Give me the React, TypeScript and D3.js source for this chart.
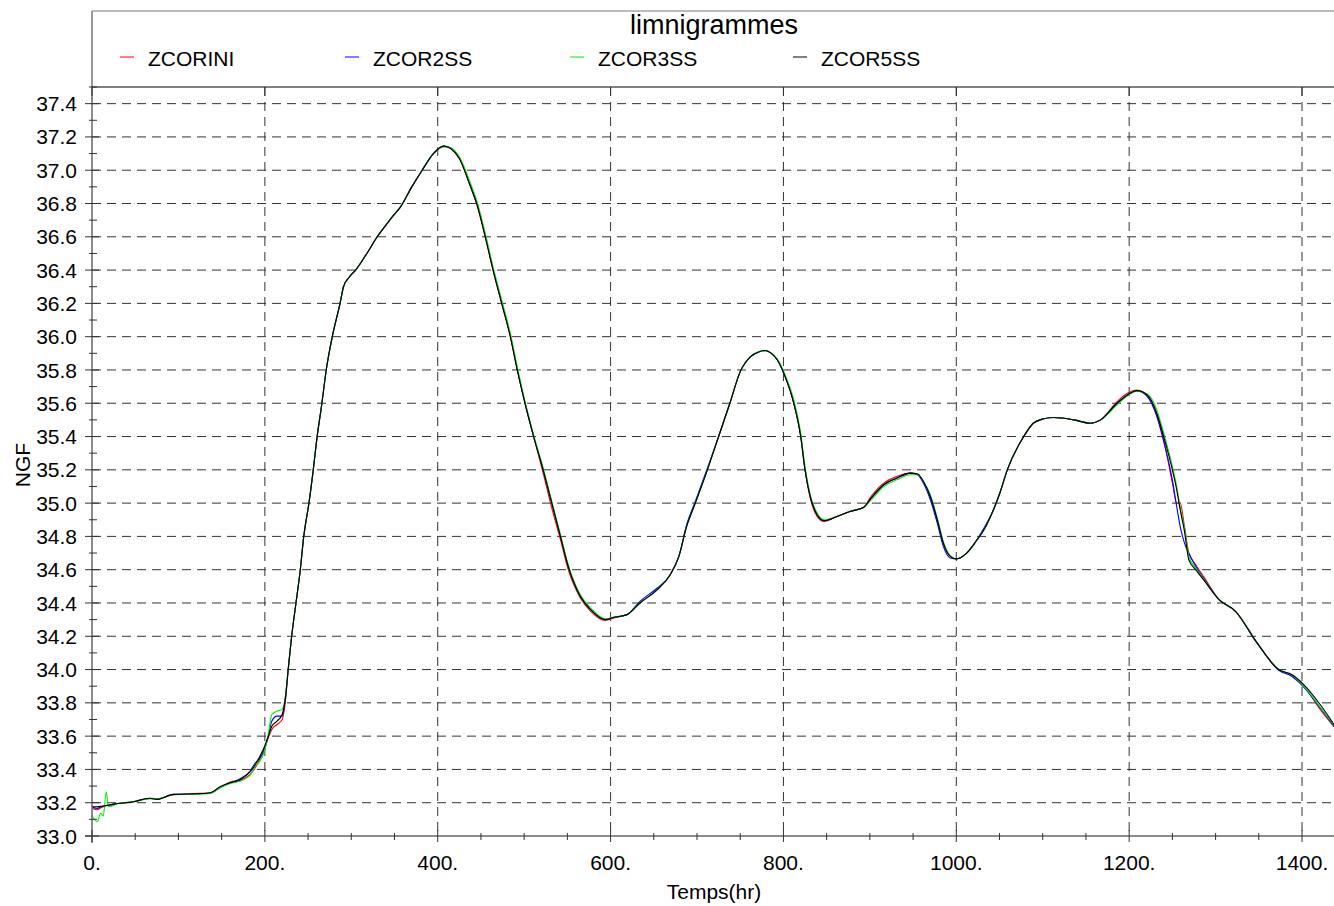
import React from "react";
import * as d3 from "d3";

const TITLE = "limnigrammes";
const X_LABEL = "Temps(hr)";
const Y_LABEL = "NGF";

const X_TICKS = [0, 200, 400, 600, 800, 1000, 1200, 1400];
const X_TICK_LABELS = ["0.", "200.", "400.", "600.", "800.", "1000.", "1200.", "1400."];
const Y_TICKS = [33.0, 33.2, 33.4, 33.6, 33.8, 34.0, 34.2, 34.4, 34.6, 34.8, 35.0, 35.2, 35.4, 35.6, 35.8, 36.0, 36.2, 36.4, 36.6, 36.8, 37.0, 37.2, 37.4];
const Y_TICK_LABELS = ["33.0", "33.2", "33.4", "33.6", "33.8", "34.0", "34.2", "34.4", "34.6", "34.8", "35.0", "35.2", "35.4", "35.6", "35.8", "36.0", "36.2", "36.4", "36.6", "36.8", "37.0", "37.2", "37.4"];

const SERIES_NAMES = ["ZCORINI", "ZCOR2SS", "ZCOR3SS", "ZCOR5SS"];
const SERIES_COLORS = ["#ff0000", "#0000ff", "#00ee00", "#000000"];

const TIME = [
  0, 2, 6, 10, 13, 16.5, 19, 24, 30, 48,
  67, 75, 94, 115, 137, 148, 160, 172, 183, 189,
  193, 199, 204, 208, 214, 220, 224, 227, 231, 236,
  241, 245, 251, 256, 260, 266, 271, 278, 287, 291,
  298, 305, 318, 330, 340, 349, 357, 370, 382, 395,
  407, 415, 425, 438, 445, 455, 464, 474, 484, 492,
  501, 511, 522, 532, 542, 551, 565, 577, 594, 604,
  619, 634, 654, 669, 679, 688, 698, 712, 725, 738,
  750, 762, 772, 779, 786, 793, 802, 812, 820, 825,
  831, 839, 847, 862, 877, 893, 900, 916, 931, 947,
  955, 962, 970, 978, 985, 993, 1000, 1012, 1024, 1032,
  1043, 1051, 1059, 1078, 1089, 1100, 1113, 1136, 1155, 1167,
  1186, 1198, 1209, 1221, 1232, 1240, 1250, 1255, 1259, 1264,
  1269, 1277, 1286, 1304, 1323, 1348, 1373, 1388, 1402, 1421,
  1437,
];

const ZCORINI = [
  33.172, 33.162, 33.158, 33.168, 33.176, 33.182, 33.185, 33.19, 33.195, 33.206,
  33.227, 33.222, 33.248, 33.255, 33.258, 33.29, 33.325, 33.335, 33.37, 33.41,
  33.45, 33.52, 33.59, 33.64, 33.67, 33.70, 33.82, 34.0, 34.2, 34.4,
  34.6, 34.8, 35.0, 35.2, 35.38, 35.6, 35.8, 36.0, 36.2, 36.3,
  36.36, 36.4, 36.5, 36.6, 36.67, 36.73, 36.78, 36.9, 37.0, 37.1,
  37.145, 37.13, 37.07, 36.9, 36.8, 36.6, 36.4, 36.2, 36.0, 35.8,
  35.6, 35.4, 35.18, 34.97, 34.78, 34.6, 34.43, 34.35, 34.295, 34.31,
  34.33, 34.4, 34.48, 34.57, 34.68, 34.86, 35.0, 35.2, 35.4, 35.6,
  35.79, 35.88, 35.91, 35.917, 35.9, 35.86, 35.76, 35.6, 35.4, 35.2,
  35.03, 34.92, 34.89, 34.92, 34.95, 34.975, 35.03, 35.12, 35.16, 35.18,
  35.175, 35.13, 35.04, 34.9, 34.76, 34.68, 34.665, 34.7, 34.78, 34.84,
  34.96, 35.07, 35.2, 35.4, 35.48, 35.505, 35.514, 35.5, 35.48, 35.5,
  35.61, 35.66, 35.68, 35.645, 35.53, 35.38, 35.12, 35.0, 35.0, 34.86,
  34.7, 34.63, 34.56, 34.42, 34.35, 34.16, 34.0, 33.965, 33.9, 33.76,
  33.655,
];

const ZCOR2SS = [
  33.18, 33.17, 33.166, 33.174, 33.18, 33.183, 33.185, 33.19, 33.195, 33.206,
  33.225, 33.222, 33.25, 33.252, 33.258, 33.292, 33.318, 33.345, 33.39, 33.44,
  33.46, 33.51, 33.6, 33.69, 33.72, 33.72, 33.84, 34.0, 34.2, 34.4,
  34.6, 34.8, 35.0, 35.2, 35.38, 35.6, 35.8, 36.0, 36.2, 36.3,
  36.36, 36.4, 36.5, 36.6, 36.67, 36.73, 36.78, 36.9, 37.0, 37.1,
  37.145, 37.135, 37.075, 36.91, 36.81, 36.61, 36.41, 36.21, 36.01, 35.81,
  35.6, 35.4, 35.2, 35.0, 34.8, 34.62, 34.44, 34.36, 34.3, 34.314,
  34.33, 34.41, 34.49, 34.57, 34.68, 34.87, 35.01, 35.21, 35.4, 35.6,
  35.79, 35.88, 35.91, 35.917, 35.9, 35.86, 35.76, 35.6, 35.4, 35.2,
  35.04, 34.93, 34.895, 34.92, 34.95, 34.975, 35.02, 35.11, 35.15, 35.18,
  35.17, 35.12, 35.02, 34.88, 34.74, 34.67, 34.665, 34.7, 34.78, 34.85,
  34.96, 35.07, 35.2, 35.4, 35.48, 35.505, 35.514, 35.5, 35.48, 35.5,
  35.6, 35.65, 35.674, 35.64, 35.52, 35.37, 35.14, 34.98, 34.86, 34.76,
  34.7, 34.62, 34.55, 34.42, 34.35, 34.16, 33.995, 33.96, 33.895, 33.77,
  33.66,
];

const ZCOR3SS = [
  33.125, 33.105, 33.086, 33.136, 33.12, 33.266, 33.176, 33.182, 33.195, 33.206,
  33.224, 33.222, 33.248, 33.25, 33.256, 33.288, 33.315, 33.33, 33.365, 33.42,
  33.44, 33.5, 33.61, 33.73, 33.75, 33.76, 33.85, 34.0, 34.2, 34.4,
  34.6, 34.8, 35.0, 35.2, 35.38, 35.6, 35.8, 36.0, 36.2, 36.3,
  36.36, 36.4, 36.5, 36.6, 36.67, 36.73, 36.78, 36.9, 37.0, 37.1,
  37.14, 37.135, 37.08, 36.92, 36.82, 36.62, 36.42, 36.22, 36.02, 35.82,
  35.61, 35.41, 35.21, 35.01, 34.81, 34.63, 34.45, 34.37, 34.305, 34.316,
  34.33, 34.4, 34.48, 34.57, 34.68, 34.86, 35.0, 35.2, 35.4, 35.6,
  35.79, 35.88, 35.91, 35.915, 35.9, 35.865, 35.77, 35.62, 35.42, 35.22,
  35.05, 34.94, 34.9, 34.92, 34.95, 34.975, 35.01, 35.1, 35.14, 35.17,
  35.17, 35.13, 35.05, 34.91, 34.77, 34.685, 34.665, 34.7, 34.78, 34.84,
  34.96, 35.07, 35.2, 35.4, 35.48, 35.505, 35.514, 35.5, 35.48, 35.5,
  35.59, 35.645, 35.672, 35.655, 35.56, 35.42, 35.22, 35.1, 34.98, 34.85,
  34.68, 34.61, 34.545, 34.42, 34.35, 34.16, 34.0, 33.968, 33.9, 33.775,
  33.665,
];

const ZCOR5SS = [
  33.175, 33.175, 33.176, 33.178, 33.18, 33.183, 33.185, 33.19, 33.195, 33.206,
  33.227, 33.22, 33.25, 33.252, 33.26, 33.296, 33.32, 33.34, 33.386, 33.43,
  33.467, 33.53, 33.6, 33.66, 33.69, 33.73, 33.84, 34.0, 34.2, 34.4,
  34.6, 34.8, 35.0, 35.2, 35.38, 35.6, 35.8, 36.0, 36.2, 36.3,
  36.36, 36.4, 36.5, 36.6, 36.67, 36.73, 36.78, 36.9, 37.0, 37.1,
  37.145, 37.13, 37.07, 36.9, 36.8, 36.6, 36.4, 36.2, 36.0, 35.8,
  35.6, 35.4, 35.2, 35.0, 34.8, 34.62, 34.44, 34.36, 34.3, 34.314,
  34.33, 34.4, 34.48, 34.57, 34.68, 34.86, 35.0, 35.2, 35.4, 35.6,
  35.79, 35.88, 35.91, 35.917, 35.9, 35.86, 35.76, 35.6, 35.4, 35.2,
  35.04, 34.93, 34.895, 34.92, 34.95, 34.975, 35.02, 35.11, 35.15, 35.18,
  35.175, 35.13, 35.04, 34.9, 34.76, 34.68, 34.665, 34.7, 34.78, 34.84,
  34.96, 35.07, 35.2, 35.4, 35.48, 35.505, 35.514, 35.5, 35.48, 35.5,
  35.6, 35.65, 35.676, 35.65, 35.54, 35.4, 35.2, 35.08, 34.96, 34.83,
  34.66, 34.6, 34.54, 34.42, 34.35, 34.16, 34.0, 33.97, 33.91, 33.79,
  33.67,
];

const SERIES_VALUES = [ZCORINI, ZCOR2SS, ZCOR3SS, ZCOR5SS];

const W = 1334;
const H = 906;
const L = 92;
const R = 1334;
const T = 87;
const B = 836;
const X_MAX = 1437;
const FONT = "'Liberation Sans', Arial, Helvetica, sans-serif";

export default function App() {
  const x = d3.scaleLinear().domain([0, X_MAX]).range([L, R]);
  const y = d3.scaleLinear().domain([33.0, 37.5]).range([B, T]);
  const line = d3
    .line<number>()
    .x((_, i) => x(TIME[i]))
    .y((d) => y(d))
    .curve(d3.curveMonotoneX);

  const xMinor = d3.range(50, X_MAX, 50).filter((v) => v % 200 !== 0);
  const yMinor = d3.range(33.1, 37.55, 0.2);

  const legendX = [120, 345, 570, 793];

  return (
    <svg
      width={W}
      height={H}
      style={{ position: "absolute", left: 0, top: 0, background: "#fff" }}
      fontFamily={FONT}
    >
      <rect x={0} y={0} width={W} height={H} fill="#fff" />
      <defs>
        <clipPath id="plotclip">
          <rect x={L} y={T} width={R - L} height={B - T} />
        </clipPath>
      </defs>

      {/* legend box */}
      <line x1={L} x2={W} y1={11} y2={11} stroke="#777" strokeWidth={1} />
      <line x1={L} x2={L} y1={11} y2={T} stroke="#777" strokeWidth={1.5} />
      <text x={714} y={34} fontSize={27} textAnchor="middle" fill="#000">
        {TITLE}
      </text>
      {SERIES_NAMES.map((name, i) => (
        <g key={name}>
          <line
            x1={legendX[i]}
            x2={legendX[i] + 14}
            y1={57}
            y2={57}
            stroke={SERIES_COLORS[i]}
            strokeWidth={1}
          />
          <text x={legendX[i] + 28} y={66} fontSize={21} fill="#000">
            {name}
          </text>
        </g>
      ))}

      {/* grid */}
      {Y_TICKS.filter((v) => v > 33.05).map((v) => (
        <line
          key={"gy" + v}
          x1={L}
          x2={R}
          y1={y(v)}
          y2={y(v)}
          stroke="#333"
          strokeWidth={1}
          strokeDasharray="9,6"
        />
      ))}
      {X_TICKS.filter((v) => v > 0).map((v) => (
        <line
          key={"gx" + v}
          x1={x(v)}
          x2={x(v)}
          y1={T}
          y2={B}
          stroke="#333"
          strokeWidth={1}
          strokeDasharray="9,6"
        />
      ))}

      {/* top frame line */}
      <line x1={L} x2={R} y1={T} y2={T} stroke="#000" strokeWidth={1} />

      {/* series */}
      <g clipPath="url(#plotclip)">
        {SERIES_VALUES.map((vals, i) => (
          <path
            key={SERIES_NAMES[i]}
            d={line(vals) || ""}
            fill="none"
            stroke={SERIES_COLORS[i]}
            strokeWidth={1.1}
            strokeLinejoin="round"
          />
        ))}
      </g>

      {/* axes */}
      <line x1={L} x2={L} y1={T} y2={B + 7} stroke="#666" strokeWidth={1.5} />
      <line x1={L - 7} x2={R} y1={B} y2={B} stroke="#666" strokeWidth={1.5} />

      {Y_TICKS.map((v, i) => (
        <g key={"ty" + v}>
          <line x1={L - 7} x2={L + 7} y1={y(v)} y2={y(v)} stroke="#333" strokeWidth={1} />
          <text x={77} y={y(v)} dy="0.36em" fontSize={21} textAnchor="end" fill="#000">
            {Y_TICK_LABELS[i]}
          </text>
        </g>
      ))}
      {yMinor.map((v) => (
        <line key={"my" + v} x1={L - 3} x2={L + 5} y1={y(v)} y2={y(v)} stroke="#333" strokeWidth={1} />
      ))}

      {X_TICKS.map((v, i) => (
        <g key={"tx" + v}>
          <line x1={x(v)} x2={x(v)} y1={B - 6} y2={B + 6} stroke="#333" strokeWidth={1} />
          <line x1={x(v)} x2={x(v)} y1={T} y2={T + 9} stroke="#333" strokeWidth={1} />
          <text x={x(v)} y={870} fontSize={21} textAnchor="middle" fill="#000">
            {X_TICK_LABELS[i]}
          </text>
        </g>
      ))}
      {xMinor.map((v) => (
        <line key={"mx" + v} x1={x(v)} x2={x(v)} y1={B - 3} y2={B + 4} stroke="#333" strokeWidth={1} />
      ))}

      <text x={714} y={899} fontSize={21} textAnchor="middle" fill="#000">
        {X_LABEL}
      </text>
      <text
        transform={`translate(30,465) rotate(-90)`}
        fontSize={21}
        textAnchor="middle"
        fill="#000"
      >
        {Y_LABEL}
      </text>
    </svg>
  );
}
